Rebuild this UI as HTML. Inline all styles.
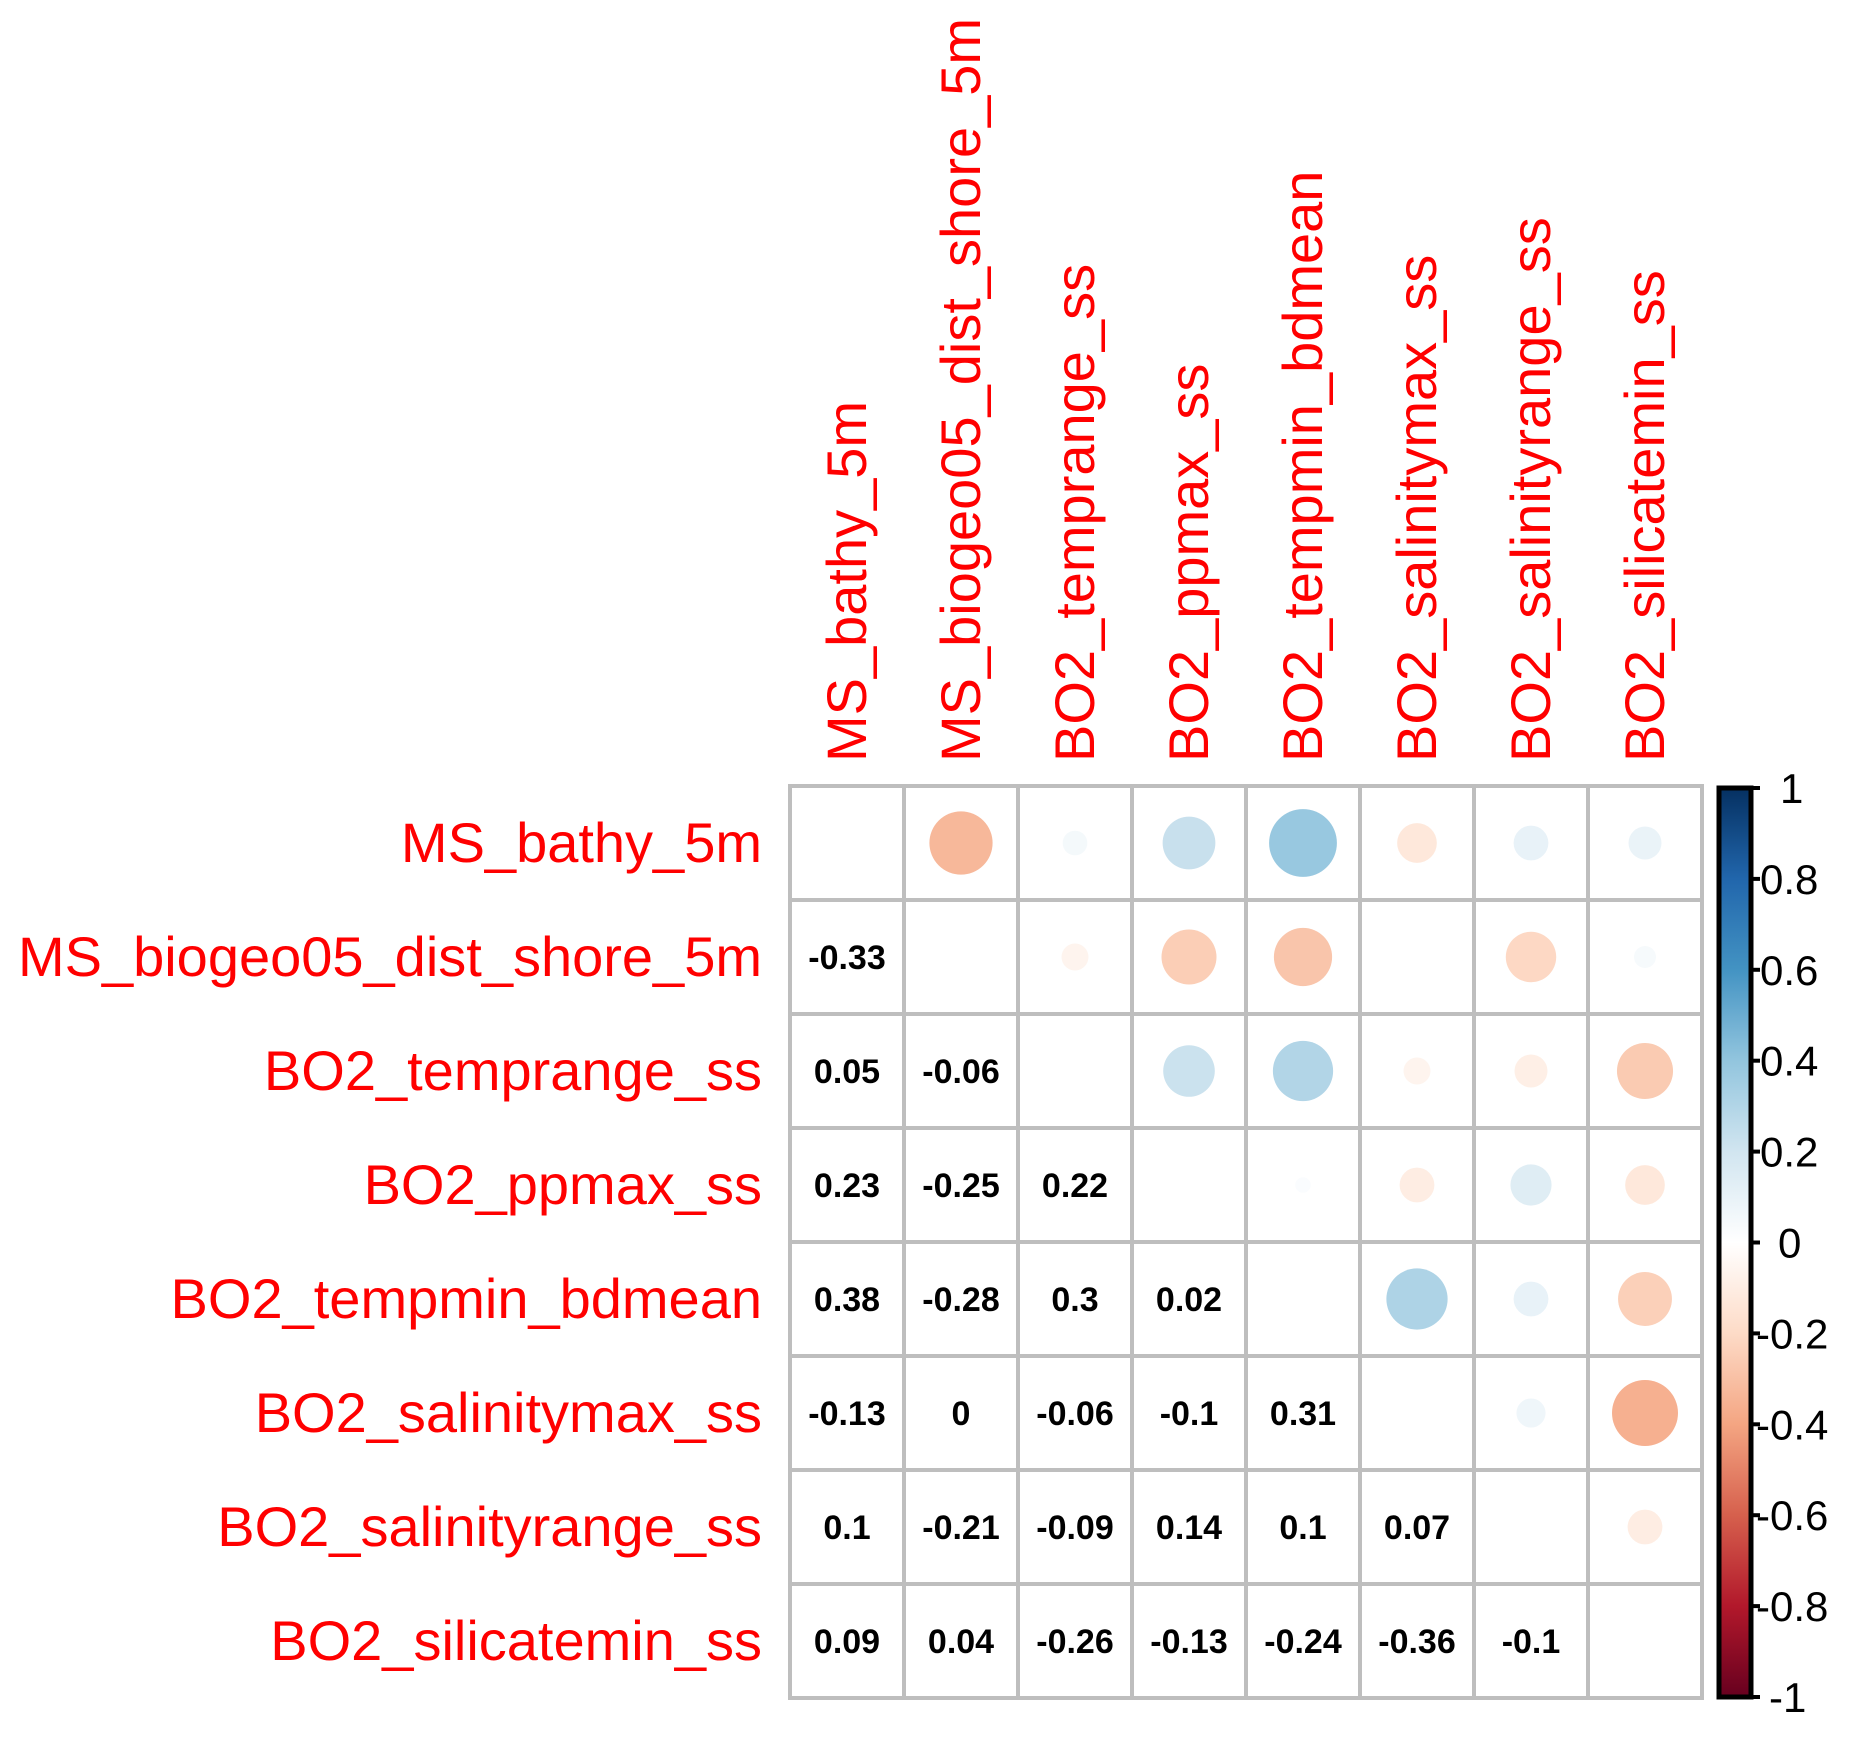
<!DOCTYPE html>
<html><head><meta charset="utf-8"><style>
html,body{margin:0;padding:0;background:#fff;}
svg{display:block;font-family:"Liberation Sans",Arial,sans-serif;}
</style></head><body>
<svg id="chart" width="1855" height="1742" viewBox="0 0 1855 1742" xmlns="http://www.w3.org/2000/svg">
<defs>
<linearGradient id="cbgrad" x1="0" y1="1" x2="0" y2="0">
<stop offset="0" stop-color="#67001F"/><stop offset="0.1" stop-color="#B2182B"/><stop offset="0.2" stop-color="#D6604D"/><stop offset="0.3" stop-color="#F4A582"/><stop offset="0.4" stop-color="#FDDBC7"/><stop offset="0.5" stop-color="#FFFFFF"/><stop offset="0.6" stop-color="#D1E5F0"/><stop offset="0.7" stop-color="#92C5DE"/><stop offset="0.8" stop-color="#4393C3"/><stop offset="0.9" stop-color="#2166AC"/><stop offset="1" stop-color="#053061"/>
</linearGradient>
</defs>
<g id="grid-layer"></g>
<g id="marks"></g>
<g id="labels"></g>
<g id="colorbar"></g>
</svg>
<script>
const variables = ["MS_bathy_5m","MS_biogeo05_dist_shore_5m","BO2_temprange_ss","BO2_ppmax_ss","BO2_tempmin_bdmean","BO2_salinitymax_ss","BO2_salinityrange_ss","BO2_silicatemin_ss"];
const lowerRow2 = [-0.33];
const lowerRow3 = [0.05,-0.06];
const lowerRow4 = [0.23,-0.25,0.22];
const lowerRow5 = [0.38,-0.28,0.3,0.02];
const lowerRow6 = [-0.13,0,-0.06,-0.1,0.31];
const lowerRow7 = [0.1,-0.21,-0.09,0.14,0.1,0.07];
const lowerRow8 = [0.09,0.04,-0.26,-0.13,-0.24,-0.36,-0.1];
const colorbarTicks = [1,0.8,0.6,0.4,0.2,0,-0.2,-0.4,-0.6,-0.8,-1];
const colorbarTickLabels = ["1","0.8","0.6","0.4","0.2","0","-0.2","-0.4","-0.6","-0.8","-1"];

const NS="http://www.w3.org/2000/svg";
const lower=[[],lowerRow2,lowerRow3,lowerRow4,lowerRow5,lowerRow6,lowerRow7,lowerRow8];
const n=variables.length;
const X0=790,Y0=786,CELL=114;
const colX=i=>X0+CELL*i+CELL/2;
const rowY=i=>Y0+CELL*i+CELL/2;
const CB_TOP=788,CB_BOT=1697;
const cbY=v=>CB_BOT-(v+1)/2*(CB_BOT-CB_TOP);
const pal=["#67001F","#B2182B","#D6604D","#F4A582","#FDDBC7","#FFFFFF","#D1E5F0","#92C5DE","#4393C3","#2166AC","#053061"];
function hex(h){return [1,3,5].map(k=>parseInt(h.substr(k,2),16));}
function colorOf(v){let t=(v+1)/2*10;let i=Math.min(9,Math.floor(t));let f=t-i;const a=hex(pal[i]),b=hex(pal[i+1]);return "rgb("+a.map((c,k)=>Math.round(c+(b[k]-c)*f)).join(",")+")";}
function el(tag,attrs,parent){const e=document.createElementNS(NS,tag);for(const k in attrs)e.setAttribute(k,attrs[k]);parent.appendChild(e);return e;}
function corr(i,j){return i>j?lower[i][j]:lower[j][i];}

const grid=document.getElementById('grid-layer');
const marks=document.getElementById('marks');
const labels=document.getElementById('labels');
const cb=document.getElementById('colorbar');

for(let i=0;i<n;i++){for(let j=0;j<n;j++){
  const r=el('rect',{x:X0+CELL*j,y:Y0+CELL*i,width:CELL,height:CELL,fill:'#fff',stroke:'#bebebe','stroke-width':4},grid);
  
  
}}

for(let i=0;i<n;i++){for(let j=0;j<n;j++){
  if(i===j)continue;
  const v=corr(i,j);
  if(i>j){
    const t=el('text',{x:colX(j),y:rowY(i)+12,'text-anchor':'middle','font-size':34,'font-weight':'bold',fill:'#000'},marks);
    t.textContent=String(v);
    
    
  } else {
    const rad=55*Math.sqrt(Math.abs(v));
    const c=el('circle',{cx:colX(j),cy:rowY(i),r:rad,fill:colorOf(v)},marks);
    
    
  }
}}

variables.forEach((name,i)=>{
  const t=el('text',{x:762,y:rowY(i)+19,'text-anchor':'end','font-size':56,fill:'#ff0000'},labels);
  t.textContent=name;
  
  
  const bx=colX(i)+19,by=762;
  const c=el('text',{x:bx,y:by,'text-anchor':'start','font-size':56,fill:'#ff0000',transform:'rotate(-90 '+bx+' '+by+')'},labels);
  c.textContent=name;
  
  
});

const bar=el('rect',{x:1719,y:CB_TOP,width:32,height:CB_BOT-CB_TOP,fill:'url(#cbgrad)',stroke:'#000','stroke-width':5},cb);


colorbarTicks.forEach((v,k)=>{
  const y=cbY(v);
  const tk=el('line',{x1:1751,x2:1760,y1:y,y2:y,stroke:'#000','stroke-width':4},cb);
  
  
  const lab=colorbarTickLabels[k];
  let x=1760;
  if(lab==="1")x=1780;
  if(lab==="0")x=1778;
  if(lab==="-1")x=1769;
  if(lab.startsWith('-')&&lab!=="-1")x=1756;
  const t=el('text',{x:x,y:y+15,'font-size':42,fill:'#000'},cb);
  t.textContent=lab;
  
  
});
</script>
</body></html>
